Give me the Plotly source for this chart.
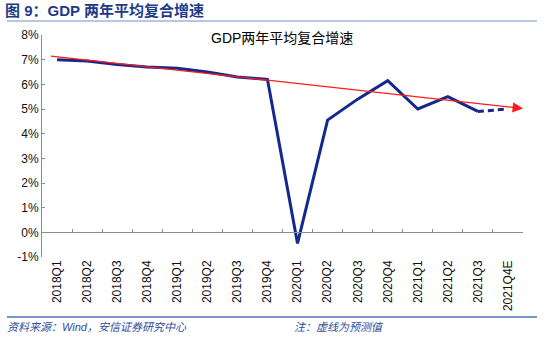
import plotly.graph_objects as go

categories = ["2018Q1", "2018Q2", "2018Q3", "2018Q4", "2019Q1", "2019Q2", "2019Q3", "2019Q4",
              "2020Q1", "2020Q2", "2020Q3", "2020Q4", "2021Q1", "2021Q2", "2021Q3", "2021Q4E"]
gdp_avg = [7.0, 6.95, 6.8, 6.7, 6.65, 6.5, 6.3, 6.2,
           -0.45, 4.55, 5.4, 6.15, 5.0, 5.5, 4.9, 5.0]
n_actual = 15  # last value is forecast (dashed)
trend_x = [-0.25, 15.5]
trend_y = [7.15, 5.02]
y_ticks = list(range(-1, 9))

BLUE = "#15288c"
AXIS = "#8c8c8c"
FONT = "Arial, Liberation Sans, sans-serif"
CJK = "Noto Sans CJK SC"

W, H = 550, 340
ML, MR, MT, MB = 42, 27, 35, 83
PW, PH = W - ML - MR, H - MT - MB


def px(xp):
    return (xp - ML) / PW


def py(yp):
    return (H - MB - yp) / PH


idx = list(range(len(categories)))

fig = go.Figure()
fig.add_trace(go.Scatter(x=idx[:n_actual], y=gdp_avg[:n_actual], mode="lines",
                         line=dict(color=BLUE, width=3), hoverinfo="skip", showlegend=False))
fig.add_trace(go.Scatter(x=idx[n_actual - 1:], y=gdp_avg[n_actual - 1:], mode="lines",
                         line=dict(color=BLUE, width=3, dash="6px,4px"), hoverinfo="skip", showlegend=False))
# invisible trace to activate the zero-line axis
fig.add_trace(go.Scatter(x=trend_x, y=trend_y, mode="lines", xaxis="x2",
                         line=dict(color="rgba(0,0,0,0)", width=0), hoverinfo="skip", showlegend=False))

fig.add_annotation(x=trend_x[1], y=trend_y[1], ax=trend_x[0], ay=trend_y[0],
                   xref="x", yref="y", axref="x", ayref="y", text="", showarrow=True,
                   arrowhead=2, arrowsize=1.6, arrowwidth=1.3, arrowcolor="#ff1a1a")

ymin, ymax = -1, 8
zero_pos = (0 - ymin) / (ymax - ymin)

fig.update_layout(
    width=W, height=H,
    margin=dict(l=ML, r=MR, t=MT, b=MB),
    paper_bgcolor="white", plot_bgcolor="white",
    font=dict(family=FONT, size=12, color="#000"),
    xaxis=dict(range=[-0.5, 15.5], tickvals=idx, ticktext=categories, tickangle=-90,
               showline=False, showgrid=False, zeroline=False, ticks="",
               tickfont=dict(size=12, family=FONT, color="#111")),
    xaxis2=dict(range=[-0.5, 15.5], overlaying="x", anchor="free", position=zero_pos,
                showline=True, linecolor=AXIS, linewidth=1, showgrid=False, zeroline=False,
                ticks="inside", ticklen=3, tickcolor=AXIS,
                tickvals=[i + 0.5 for i in range(0, 16)], showticklabels=False),
    yaxis=dict(range=[ymin, ymax], tickvals=y_ticks, ticktext=[f"{v}%" for v in y_ticks],
               showline=True, linecolor=AXIS, linewidth=1, ticks="inside", ticklen=3,
               tickcolor=AXIS, showgrid=False, zeroline=False,
               tickfont=dict(size=12, family=FONT, color="#111")),
)

# chart inner title
fig.add_annotation(text="GDP两年平均复合增速", xref="paper", yref="paper", x=px(282), y=py(38),
                   xanchor="center", yanchor="middle", showarrow=False,
                   font=dict(size=14, family=f"Arial, {CJK}", color="#000"))
# report header
fig.add_annotation(text="<b>图 9：GDP 两年平均复合增速</b>", xref="paper", yref="paper",
                   x=px(3), y=py(10), xanchor="left", yanchor="middle", showarrow=False,
                   font=dict(size=15, family=f"Arial, {CJK}", color="#1f3a88"))
fig.add_shape(type="line", xref="paper", yref="paper", x0=px(7), x1=px(537),
              y0=py(21), y1=py(21), line=dict(color="#b8c6e2", width=2))
fig.add_shape(type="line", xref="paper", yref="paper", x0=px(7), x1=px(537),
              y0=py(317), y1=py(317), line=dict(color="#4f6fb3", width=1.5))
fig.add_annotation(text="<i>资料来源：Wind，安信证券研究中心</i>", xref="paper", yref="paper",
                   x=px(5), y=py(327), xanchor="left", yanchor="middle", showarrow=False,
                   font=dict(size=11, family=f"Arial, {CJK}", color="#2e4d9a"))
fig.add_annotation(text="<i>注：虚线为预测值</i>", xref="paper", yref="paper",
                   x=px(292), y=py(327), xanchor="left", yanchor="middle", showarrow=False,
                   font=dict(size=11, family=f"Arial, {CJK}", color="#2e4d9a"))

fig.write_html("out.html")
